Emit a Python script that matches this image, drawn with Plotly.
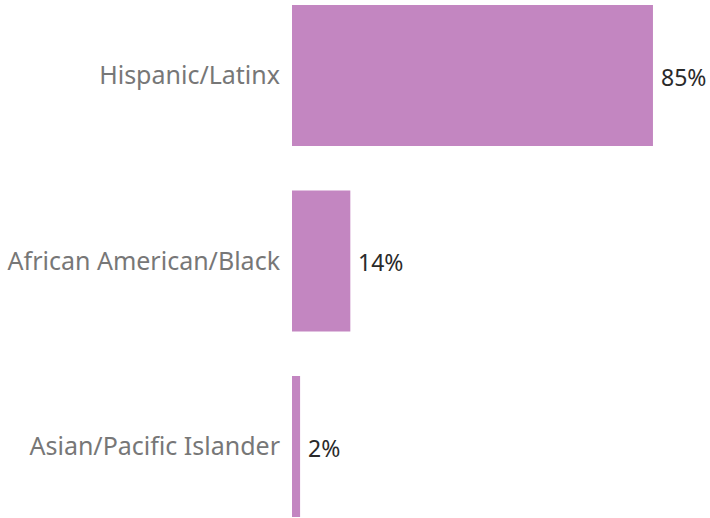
import plotly.graph_objects as go

categories = ["Hispanic/Latinx", "African American/Black", "Asian/Pacific Islander"]
values = [84.8, 13.7, 1.9]
labels = ["85%", "14%", "2%"]

fig = go.Figure(go.Bar(
    x=values, y=categories, orientation="h",
    marker=dict(color="#C386C1", line=dict(width=0)),
    width=0.76,
    hoverinfo="skip",
))
for v, c, t in zip(values, categories, labels):
    fig.add_annotation(x=v, y=c, text=t, showarrow=False, xanchor="left", yanchor="middle",
                       xshift=6, yshift=-1,
                       font=dict(family="Noto Sans", size=23, color="#2a2a2a"))
fig.update_layout(
    width=710, height=518,
    margin=dict(l=292, r=0, t=0, b=0),
    plot_bgcolor="white", paper_bgcolor="white",
    showlegend=False,
    xaxis=dict(range=[0, 98.2], visible=False),
    yaxis=dict(range=[2.385, -0.407], showgrid=False, zeroline=False, showline=False,
               ticks="", ticklabelstandoff=11,
               tickfont=dict(family="Noto Sans", size=25, color="#777777")),
)
fig.write_html("out.html", config={"displayModeBar": False},
               post_script="document.body.style.margin='0';document.body.style.overflow='hidden';")
